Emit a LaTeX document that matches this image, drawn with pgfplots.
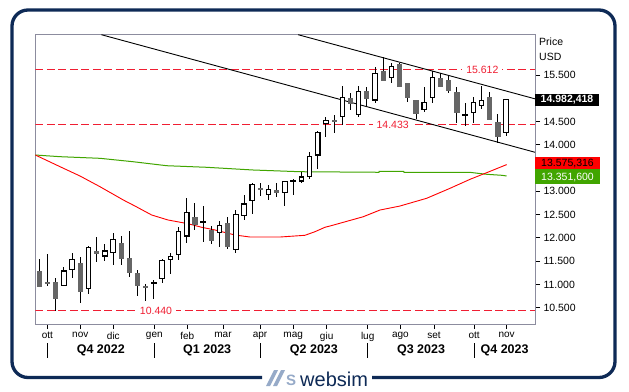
\documentclass[border=0pt]{standalone}
\usepackage{pgfplots}
\pgfplotsset{compat=1.18}
\usepackage{pgfplotstable}
\usepackage{fontspec}
\setmainfont{Liberation Sans}
\definecolor{navy}{RGB}{14,42,86}
\definecolor{cgray}{RGB}{102,102,102}
\definecolor{framec}{RGB}{140,140,158}
\definecolor{mared}{RGB}{255,0,0}
\definecolor{lvred}{RGB}{240,30,50}
\definecolor{magreen}{RGB}{65,165,0}
\definecolor{logoblue}{RGB}{150,170,200}

% up candles: i open high low close
\pgfplotstableread{
i o h l c
3 10.96 11.37 10.96 11.30
4 11.30 11.68 11.14 11.54
6 10.90 11.83 10.79 11.80
8 11.60 11.87 11.50 11.73
9 11.67 12.11 11.42 11.97
14 11.01 11.10 10.68 11.05
15 11.12 11.55 11.04 11.52
16 11.52 11.68 11.23 11.61
17 11.64 12.23 11.53 12.15
18 12.03 12.86 11.88 12.55
20 12.32 12.68 11.91 12.36
22 12.10 12.36 11.81 12.28
24 11.74 12.60 11.68 12.51
25 12.46 12.92 12.38 12.74
26 12.79 13.19 12.51 13.15
28 12.92 13.14 12.81 13.06
30 12.96 13.23 12.69 13.22
31 13.20 13.26 12.92 13.24
32 13.21 13.41 13.17 13.32
33 13.31 13.84 13.27 13.77
34 13.77 14.30 13.48 14.27
35 14.44 14.59 14.17 14.53
37 14.59 15.26 14.42 15.03
39 14.64 15.26 14.59 15.16
41 14.95 15.68 14.89 15.55
43 15.44 15.75 15.33 15.70
47 14.74 15.25 14.71 14.93
48 15.00 15.58 14.90 15.45
52 14.63 14.89 14.41 14.67
53 14.69 15.02 14.46 14.93
54 14.84 15.26 14.78 14.96
57 14.25 14.98 14.19 14.982
}\upc

% down candles
\pgfplotstableread{
i o h l c
0 11.29 11.54 10.95 10.95
1 11.06 11.65 10.97 11.02
2 11.05 11.13 10.44 10.68
5 11.46 11.58 10.61 10.84
7 11.72 12.02 11.49 11.66
10 11.90 12.05 11.42 11.54
11 11.57 12.15 11.17 11.24
12 11.25 11.30 10.75 10.97
13 10.96 11.00 10.65 10.92
19 12.45 12.74 12.17 12.28
21 12.18 12.26 11.87 11.94
23 12.33 12.44 11.76 11.81
27 13.07 13.19 12.91 13.03
29 13.03 13.18 12.87 12.97
36 14.54 14.64 14.25 14.50
38 15.00 15.12 14.75 14.88
40 15.16 15.25 14.83 14.98
42 15.59 15.89 15.38 15.38
44 15.73 15.75 15.24 15.24
45 15.32 15.32 14.93 15.00
46 14.96 14.96 14.55 14.66
49 15.43 15.55 15.24 15.25
50 15.39 15.48 15.11 15.15
51 15.14 15.24 14.46 14.68
55 15.03 15.14 14.53 14.53
56 14.50 14.67 14.03 14.16
}\downc

\pgfplotstableread{
i v
-0.49 13.781
2.53 13.53
4.97 13.33
7.41 13.10
10.26 12.814
11.68 12.685
13.72 12.492
15.71 12.385
18.16 12.305
19.83 12.228
21.45 12.170
23.9 12.062
25.73 12.019
29.39 12.019
32.44 12.056
33.66 12.133
34.88 12.228
35.49 12.255
39.56 12.455
41.6 12.599
44.04 12.685
47.3 12.851
50.16 13.066
52.6 13.259
54.63 13.401
57.07 13.575
}\redma

\pgfplotstableread{
i v
-0.49 13.781
2.53 13.745
7.41 13.710
11.44 13.637
15.56 13.551
20.44 13.517
26.09 13.459
31.83 13.422
41.48 13.410
41.5 13.431
44.5 13.431
44.53 13.409
52.59 13.409
53.56 13.388
54.66 13.366
56.5 13.345
57.07 13.33
}\greenma

\begin{document}
\begin{tikzpicture}[x=1pt,y=1pt]
\begin{scope}[shift={(-35.3,-67)}]
\useasboundingbox (0,0) rectangle (629,391);
\fill[white] (0,0) rectangle (629,391);
% outer frame
\draw[navy, line width=3.3pt, rounded corners=16pt] (262,13.5) -- (12,13.5) -- (12,381) -- (615,381) -- (615,13.5) -- (372,13.5);
\end{scope}

\begin{axis}[
  width=499.7pt, height=289.3pt, scale only axis,
  xmin=-0.49, xmax=60.53, ymin=10.15, ymax=16.366,
  axis line style={framec, line width=0.9pt},
  tick style={black, line width=0.8pt},
  tick align=outside, major tick length=5pt,
  xtick pos=bottom, ytick pos=right, yticklabel pos=right,
  xtick={0.98,5,9.04,14.04,18.07,22.43,26.95,31,35.09,40.1,44.1,48.2,53.1,57.07},
  xticklabels={ott,nov,dic,gen,feb,mar,apr,mag,giu,lug,ago,set,ott,nov},
  ytick={10.5,11,11.5,12,12.5,13,14,14.5,15.5},
  yticklabel style={/pgf/number format/.cd, fixed, fixed zerofill, precision=3, assume math mode=true},
  ticklabel style={font=\fontsize{10.5}{12}\selectfont},
  xticklabel style={font=\fontsize{10}{12}\selectfont},
  clip=true,
]
% horizontal levels
\addplot[lvred, line width=0.9pt, dash pattern=on 8pt off 3.5pt] coordinates {(-0.49,15.612)(60.53,15.612)};
\addplot[lvred, line width=0.9pt, dash pattern=on 8pt off 3.5pt] coordinates {(-0.49,14.433)(60.53,14.433)};
\addplot[lvred, line width=0.9pt, dash pattern=on 8pt off 3.5pt] coordinates {(-0.49,10.440)(60.53,10.440)};
% moving averages
\addplot[magreen, line width=1pt] table[x=i,y=v] \greenma;
\addplot[mared, line width=0.9pt] table[x=i,y=v] \redma;
% channel
\addplot[black, line width=0.9pt] coordinates {(7.58,16.366)(60.53,13.84)};
\addplot[black, line width=0.9pt] coordinates {(31.6,16.366)(60.53,14.988)};
% wicks
\addplot[draw=none, mark=none, error bars/.cd, y dir=both, y explicit, error mark=none,
  error bar style={draw=black, line width=1pt}]
  table[x=i, y expr={(\thisrow{h}+\thisrow{l})/2}, y error expr={(\thisrow{h}-\thisrow{l})/2}] \upc;
\addplot[draw=none, mark=none, error bars/.cd, y dir=both, y explicit, error mark=none,
  error bar style={draw=black, line width=1pt}]
  table[x=i, y expr={(\thisrow{h}+\thisrow{l})/2}, y error expr={(\thisrow{h}-\thisrow{l})/2}] \downc;
% bodies
\addplot[draw=none, mark=none, error bars/.cd, y dir=both, y explicit, error mark=none,
  error bar style={draw=cgray, line width=5.2pt}]
  table[x=i, y expr={(\thisrow{o}+\thisrow{c})/2}, y error expr={abs(\thisrow{o}-\thisrow{c})/2}] \downc;
\addplot[draw=none, mark=none, error bars/.cd, y dir=both, y explicit, error mark=none,
  error bar style={draw=black, line width=5.6pt}]
  table[x=i, y expr={(\thisrow{o}+\thisrow{c})/2}, y error expr={abs(\thisrow{o}-\thisrow{c})/2}] \upc;
\addplot[draw=none, mark=none, error bars/.cd, y dir=both, y explicit, error mark=none,
  error bar style={draw=white, line width=3.4pt}]
  table[x=i, y expr={(\thisrow{o}+\thisrow{c})/2}, y error expr={max(0,(\thisrow{c}-\thisrow{o})/2-0.024)}] \upc;
% level labels
\node[fill=white, text=lvred, inner xsep=4pt, inner ysep=1pt, font=\fontsize{10.5}{12}\selectfont] at (axis cs:54.1,15.612) {15.612};
\node[fill=white, text=lvred, inner xsep=4pt, inner ysep=1pt, font=\fontsize{10.5}{12}\selectfont] at (axis cs:43.15,14.433) {14.433};
\node[fill=white, text=lvred, inner xsep=4pt, inner ysep=1pt, font=\fontsize{10.5}{12}\selectfont] at (axis cs:14.25,10.440) {10.440};
\end{axis}

\begin{scope}[shift={(-35.3,-67)}]
% price boxes
\fill[black] (535,285) rectangle (599,297);
\node[white, inner sep=0pt, font=\bfseries\fontsize{10.5}{12}\selectfont] at (567,291) {14.982,418};
\fill[mared] (535,221.5) rectangle (600,233.5);
\node[black, inner sep=0pt, font=\fontsize{10.5}{11}\selectfont] at (567.5,227.5) {13.575,316};
\fill[magreen] (535,207) rectangle (600,221.5);
\node[white, inner sep=0pt, font=\fontsize{10.5}{11}\selectfont] at (567.5,213.5) {13.351,600};
% price/usd
\node[anchor=west, font=\fontsize{10.5}{12}\selectfont, inner sep=0pt] at (539,349.3) {Price};
\node[anchor=west, font=\fontsize{10.5}{12}\selectfont, inner sep=0pt] at (539,334.3) {USD};

% quarter separators and labels
\foreach \xx in {47.3,154.3,260,367.7,474.3} {\draw[black, line width=1pt] (\xx,48) -- (\xx,33);}
\node[font=\bfseries\fontsize{12.5}{14}\selectfont] at (100.8,41) {Q4 2022};
\node[font=\bfseries\fontsize{12.5}{14}\selectfont] at (207.2,41) {Q1 2023};
\node[font=\bfseries\fontsize{12.5}{14}\selectfont] at (313.9,41) {Q2 2023};
\node[font=\bfseries\fontsize{12.5}{14}\selectfont] at (421,41) {Q3 2023};
\node[font=\bfseries\fontsize{12.5}{14}\selectfont] at (504.6,41) {Q4 2023};

% logo
\fill[logoblue] (266,5) -- (270,5) -- (278,21) -- (274,21) -- cycle;
\fill[logoblue] (273,5) -- (277,5) -- (285,21) -- (281,21) -- cycle;
\node[anchor=base, text=logoblue, font=\bfseries\fontsize{15}{16}\selectfont, inner sep=0pt] at (291,6) {S};
\node[anchor=base west, text=navy, font=\fontsize{20}{22}\selectfont, inner sep=0pt] at (300,5) {websim};
\end{scope}
\end{tikzpicture}
\end{document}
